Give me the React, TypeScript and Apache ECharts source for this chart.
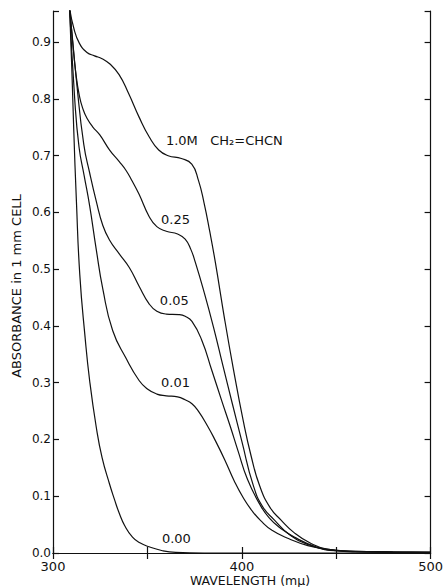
import React, { useEffect, useRef } from "react";
import * as echarts from "echarts";

// Wavelength (mμ) / absorbance pairs, one pair of arrays per concentration
const wl100 = [308.8, 311, 314, 318, 322, 326, 330, 335, 340, 345.6, 351, 356, 361, 368, 373.5, 377, 380, 383, 386, 391, 395.5, 400.7, 405, 409.5, 415, 420.8, 428, 436, 445, 460, 480, 500];
const abs100 = [0.96, 0.925, 0.898, 0.882, 0.876, 0.871, 0.862, 0.843, 0.81, 0.768, 0.733, 0.71, 0.7, 0.695, 0.685, 0.657, 0.617, 0.567, 0.512, 0.41, 0.325, 0.234, 0.17, 0.118, 0.08, 0.058, 0.035, 0.018, 0.007, 0.003, 0.002, 0.001];

const wl025 = [308.8, 310.5, 312, 314, 316, 318, 321, 324.7, 330, 335, 338.7, 342, 345.6, 350.9, 355, 360, 366, 370, 373, 375.4, 380, 385, 390, 395, 400, 406, 411, 417.3, 425, 435, 445, 460, 500];
const abs025 = [0.96, 0.9, 0.848, 0.805, 0.781, 0.766, 0.751, 0.737, 0.71, 0.69, 0.674, 0.655, 0.632, 0.593, 0.575, 0.567, 0.562, 0.553, 0.535, 0.512, 0.46, 0.398, 0.33, 0.263, 0.197, 0.12, 0.082, 0.058, 0.033, 0.015, 0.006, 0.002, 0.001];

const wl005 = [308.8, 312.5, 316.3, 319.4, 322.9, 326.4, 330, 335.1, 340.4, 345.6, 350.9, 355, 360, 366.6, 370, 373.6, 378.8, 384.1, 389.3, 394, 398, 403, 410, 415, 420, 427.8, 440, 450, 470, 500];
const abs005 = [0.96, 0.83, 0.72, 0.67, 0.62, 0.577, 0.551, 0.527, 0.503, 0.47, 0.439, 0.426, 0.421, 0.42, 0.417, 0.408, 0.375, 0.322, 0.269, 0.222, 0.18, 0.13, 0.083, 0.06, 0.045, 0.028, 0.01, 0.004, 0.002, 0.001];

const wl001 = [308.8, 311.5, 313.8, 316.5, 319.4, 322.9, 326.4, 331.6, 338.7, 345.6, 350, 355, 360, 366, 370, 373.6, 377, 382, 386, 391, 396, 401, 405.5, 410, 416, 425, 435, 445, 460, 500];
const abs001 = [0.96, 0.8, 0.715, 0.665, 0.612, 0.535, 0.465, 0.392, 0.343, 0.304, 0.289, 0.28, 0.277, 0.275, 0.27, 0.263, 0.25, 0.223, 0.198, 0.164, 0.127, 0.096, 0.074, 0.057, 0.04, 0.025, 0.013, 0.007, 0.003, 0.001];

const wl000 = [308.8, 310, 311, 312.4, 314.2, 317, 319.4, 322.9, 326, 329.9, 332.5, 335.1, 338, 342.1, 346, 350.9, 358, 365, 380, 500];
const abs000 = [0.96, 0.85, 0.745, 0.62, 0.49, 0.38, 0.304, 0.222, 0.168, 0.122, 0.095, 0.07, 0.048, 0.028, 0.018, 0.011, 0.004, 0.001, 0.0, 0.0];

// Curve labels and their anchor (data coordinates)
const labelTexts = ["1.0M   CH₂=CHCN", "0.25", "0.05", "0.01", "0.00"];
const labelWl = [359.8, 357.2, 356.6, 357.2, 357.7];
const labelAbs = [0.727, 0.588, 0.445, 0.3006, 0.026];

const xTickLabels = [300, 400, 500];
const xName = "WAVELENGTH (mμ)";
const yName = "ABSORBANCE in 1 mm CELL";

const zip = (xs: number[], ys: number[]) => xs.map((x, i) => [x, ys[i]]);

const FONT = "DejaVu Sans";

export default function App() {
  const ref = useRef<HTMLDivElement>(null);
  useEffect(() => {
    document.body.style.margin = "0";
    const chart = echarts.init(ref.current!, null, { renderer: "svg" });
    const lineSeries = (name: string, data: number[][]) => ({
      name,
      type: "line",
      data,
      smooth: 0.5,
      showSymbol: false,
      symbol: "none",
      clip: true,
      lineStyle: { color: "#111", width: 1.2 },
      xAxisIndex: 0,
      yAxisIndex: 0,
    });
    const axisCommon = {
      axisLine: { show: true, lineStyle: { color: "#111", width: 1.2 } },
      axisTick: { show: true, inside: true, length: 6, lineStyle: { color: "#111", width: 1.2 } },
      splitLine: { show: false },
    };
    chart.setOption({
      animation: false,
      backgroundColor: "#fff",
      grid: { left: 53, right: 12, top: 11, bottom: 34 },
      xAxis: [
        {
          type: "value",
          min: 300,
          max: 500,
          interval: 50,
          position: "bottom",
          ...axisCommon,
          axisLabel: {
            color: "#111",
            fontFamily: FONT,
            fontSize: 13,
            margin: 7,
            formatter: (v: number) => (xTickLabels.includes(v) ? String(v) : ""),
          },
        },
        {
          type: "value",
          min: 300,
          max: 500,
          interval: 50,
          position: "top",
          ...axisCommon,
          axisLabel: { show: false },
        },
      ],
      yAxis: [
        {
          type: "value",
          min: 0,
          max: 0.955,
          interval: 0.1,
          position: "left",
          ...axisCommon,
          axisLabel: {
            color: "#111",
            fontFamily: FONT,
            fontSize: 12,
            margin: 2,
            formatter: (v: number) =>
              Math.abs(v * 10 - Math.round(v * 10)) < 1e-6 ? v.toFixed(1) : "",
          },
        },
        {
          type: "value",
          min: 0,
          max: 0.955,
          interval: 0.1,
          position: "right",
          ...axisCommon,
          axisLabel: { show: false },
        },
      ],
      series: [
        lineSeries("1.0M", zip(wl100, abs100)),
        lineSeries("0.25", zip(wl025, abs025)),
        lineSeries("0.05", zip(wl005, abs005)),
        lineSeries("0.01", zip(wl001, abs001)),
        lineSeries("0.00", zip(wl000, abs000)),
      ],
    });

    const labelGraphics = labelTexts.map((t, i) => {
      const p = chart.convertToPixel({ xAxisIndex: 0, yAxisIndex: 0 }, [labelWl[i], labelAbs[i]]) as number[];
      return {
        type: "text",
        x: p[0],
        y: p[1],
        silent: true,
        style: {
          text: t,
          fill: "#111",
          font: `13px "${FONT}"`,
          textAlign: "left",
          textVerticalAlign: "middle",
        },
      };
    });

    chart.setOption({
      graphic: [
        ...labelGraphics,
        {
          type: "text",
          x: 250,
          y: 580,
          silent: true,
          style: {
            text: xName,
            fill: "#111",
            font: `12.5px "${FONT}"`,
            textAlign: "center",
            textVerticalAlign: "middle",
          },
        },
        {
          type: "text",
          x: 16,
          y: 286,
          rotation: Math.PI / 2,
          silent: true,
          style: {
            text: yName,
            fill: "#111",
            font: `13px "${FONT}"`,
            textAlign: "center",
            textVerticalAlign: "middle",
          },
        },
      ],
    });

    return () => chart.dispose();
  }, []);
  return (
    <div
      ref={ref}
      style={{ position: "absolute", left: 0, top: 0, width: 446, height: 587 }}
    />
  );
}
